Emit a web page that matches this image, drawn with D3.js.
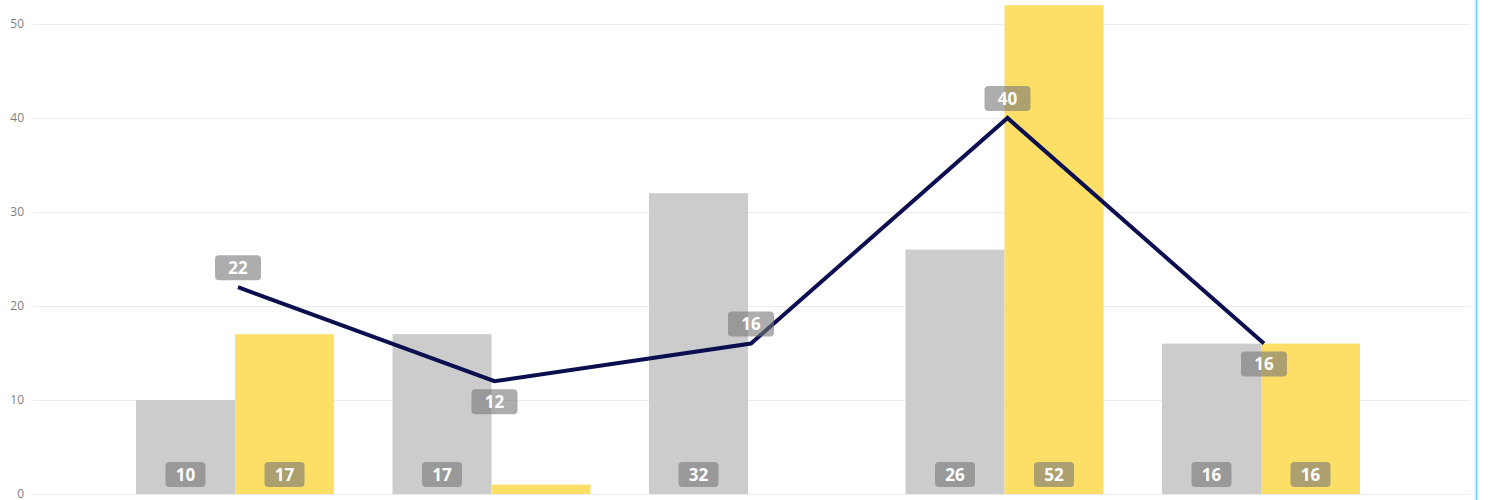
<!DOCTYPE html>
<html>
<head>
<meta charset="utf-8">
<script src="https://cdn.jsdelivr.net/npm/d3@7/dist/d3.min.js"></script>
<style>
  html, body { margin: 0; padding: 0; background: #ffffff; }
  svg { display: block; }
</style>
</head>
<body>
<svg id="chart" width="1491" height="500"></svg>
<script>
// Chart data
const categories = ["Cat 1", "Cat 2", "Cat 3", "Cat 4", "Cat 5"];
const seriesNames = ["Series A", "Series B"];
const seriesA = [10, 17, 32, 26, 16];   // grey bars
const seriesB = [17, 1, 0, 52, 16];     // yellow bars
const lineValues = [22, 12, 16, 40, 16]; // navy line
const yTicks = [0, 10, 20, 30, 40, 50];

const W = 1491, H = 500;
const svg = d3.select("#chart");

const y = d3.scaleLinear().domain([0, 50]).range([494, 24]);
const x = d3.scaleBand().domain(categories).range([106.75, 1389.25])
  .paddingInner(0.228).paddingOuter(0.114);
const xs = d3.scaleBand().domain(seriesNames).range([0, x.bandwidth()]);

const colors = { "Series A": "#cccccc", "Series B": "#fddf67" };
const gridLeft = 33, gridRight = 1470;

// Horizontal grid lines and tick labels
const axis = d3.axisLeft(y).tickValues(yTicks).tickSize(-(gridRight - gridLeft)).tickPadding(9);
const gAxis = svg.append("g").attr("transform", `translate(${gridLeft},0)`).call(axis);
gAxis.select(".domain").remove();
gAxis.selectAll(".tick line").attr("stroke", "#ececec").attr("stroke-width", 1);
gAxis.selectAll(".tick text")
  .attr("fill", "#7f7f7f")
  .attr("font-family", "'Open Sans', 'DejaVu Sans', sans-serif")
  .attr("font-size", 12);

// Bars
const rows = categories.map((c, i) => ({ cat: c, vals: [
  { key: "Series A", v: seriesA[i] },
  { key: "Series B", v: seriesB[i] }
]}));

const gBars = svg.append("g");
const groups = gBars.selectAll("g").data(rows).join("g")
  .attr("transform", d => `translate(${x(d.cat)},0)`);

groups.selectAll("rect").data(d => d.vals.filter(v => v.v > 0)).join("rect")
  .attr("x", d => xs(d.key))
  .attr("width", xs.bandwidth())
  .attr("y", d => y(d.v))
  .attr("height", d => y(0) - y(d.v))
  .attr("fill", d => colors[d.key]);

const labelFont = "'Open Sans', 'DejaVu Sans', sans-serif";
const labelSize = 17;
const boxFill = "rgba(118,118,118,0.6)";

// Value badges at the base of the bars (skip bars too short to hold one)
groups.selectAll("g.badge").data(d => d.vals.filter(v => v.v >= 5)).join("g")
  .attr("class", "badge")
  .each(function(d) {
    const g = d3.select(this);
    const cx = xs(d.key) + xs.bandwidth() / 2;
    const bw = 40, bh = 25;
    const by = y(0) - 7 - bh;
    g.append("rect").attr("x", cx - bw / 2).attr("y", by).attr("width", bw).attr("height", bh)
      .attr("rx", 4).attr("fill", boxFill);
    g.append("text").attr("x", cx).attr("y", by + bh / 2).attr("dy", "0.36em")
      .attr("text-anchor", "middle").attr("fill", "#ffffff")
      .attr("font-family", labelFont).attr("font-weight", 700).attr("font-size", labelSize)
      .text(d.v);
  });

// Line series
const lineOffset = 3;
const pts = lineValues.map((v, i) => ({
  v, i,
  px: x(categories[i]) + x.bandwidth() / 2 + lineOffset,
  py: y(v)
}));

svg.append("path")
  .datum(pts)
  .attr("fill", "none")
  .attr("stroke", "#0b0e4f")
  .attr("stroke-width", 4)
  .attr("stroke-linejoin", "miter")
  .attr("d", d3.line().x(d => d.px).y(d => d.py));

// Line badges: above the point unless the line descends into it
const gLine = svg.append("g");
pts.forEach(p => {
  const below = p.i > 0 && p.v < lineValues[p.i - 1];
  const bw = 46, bh = 25, gap = 7;
  const cx = p.px;
  const by = below ? p.py + gap + 1 : p.py - gap - bh;
  gLine.append("rect").attr("x", cx - bw / 2).attr("y", by).attr("width", bw).attr("height", bh)
    .attr("rx", 4).attr("fill", boxFill);
  gLine.append("text").attr("x", cx).attr("y", by + bh / 2).attr("dy", "0.36em")
    .attr("text-anchor", "middle").attr("fill", "#ffffff")
    .attr("font-family", labelFont).attr("font-weight", 700).attr("font-size", labelSize)
    .text(p.v);
});

// Focus border on the right edge
svg.append("line").attr("x1", 1476.5).attr("x2", 1476.5).attr("y1", 0).attr("y2", H)
  .attr("stroke", "#d6f1fc").attr("stroke-width", 4);
svg.append("line").attr("x1", 1476.5).attr("x2", 1476.5).attr("y1", 0).attr("y2", H)
  .attr("stroke", "#6fd0f6").attr("stroke-width", 1.2);
</script>
</body>
</html>
